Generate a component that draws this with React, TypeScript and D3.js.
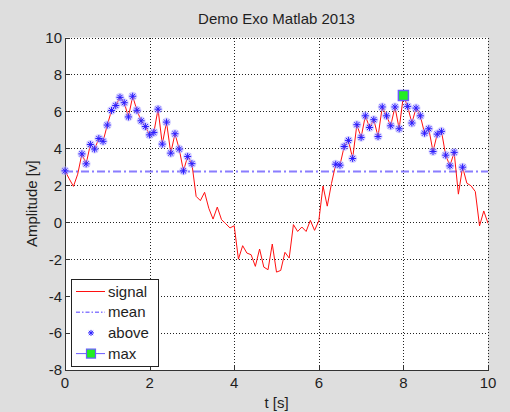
import React from 'react';
import * as d3 from 'd3';

const TITLE = 'Demo Exo Matlab 2013';
const X_LABEL = 't [s]';
const Y_LABEL = 'Amplitude [v]';
const X_TICKS = [0, 2, 4, 6, 8, 10];
const Y_TICKS = [10, 8, 6, 4, 2, 0, -2, -4, -6, -8];
const X_DOMAIN = [0, 10];
const Y_DOMAIN = [-8, 10];
const SAMPLE_STEP = 0.1;
const SIGNAL = [
  2.78, 2.35, 1.94, 2.6, 3.7, 3.16, 4.21, 3.96, 4.53, 4.38,
  5.26, 6.05, 6.32, 6.76, 6.47, 5.7, 6.82, 6.06, 5.49, 5.18,
  4.73, 4.86, 6.12, 4.23, 5.42, 3.74, 4.79, 3.96, 2.78, 3.56,
  3.17, 1.4, 1.17, 1.62, 0.75, 0.17, 0.82, 0.14, -0.08, -0.31,
  -0.19, -2.0, -1.27, -1.67, -1.76, -2.39, -1.45, -2.43, -2.57, -1.18,
  -2.7, -2.61, -1.63, -1.94, -0.13, -0.5, -0.26, -0.5, 0.1, -0.44,
  0.08, 1.96, 0.87, 2.1, 3.14, 3.09, 4.1, 4.43, 3.45, 5.28,
  4.59, 5.76, 5.13, 5.55, 4.64, 6.24, 5.76, 5.22, 6.24, 5.06,
  6.86, 6.27, 5.37, 6.18, 5.76, 4.82, 5.06, 3.83, 4.77, 4.92,
  3.63, 3.05, 3.78, 1.52, 2.98, 2.11, 1.97, 1.66, -0.2, 0.61,
  -0.06,
];
const LEGEND_LABELS = ['signal', 'mean', 'above', 'max'];

const FONT = '"Liberation Sans", Arial, Helvetica, sans-serif';
const BG = '#dedede';
const TEXT = '#1e1e1e';
const RED = '#ff1010';
const BLUE = '#2a1cff';
const MEAN_COL = '#8a7dff';
const HALO = '#b9b2ff';

function asterisk(cx: number, cy: number, r: number) {
  const d = r * 0.72;
  return `M${cx - r},${cy}H${cx + r}M${cx},${cy - r}V${cy + r}M${cx - d},${cy - d}L${cx + d},${cy + d}M${cx - d},${cy + d}L${cx + d},${cy - d}`;
}

export default function App() {
  const W = 510;
  const H = 412;
  const x = d3.scaleLinear().domain(X_DOMAIN).range([65, 488]);
  const y = d3.scaleLinear().domain(Y_DOMAIN).range([370, 37.5]);
  const t = SIGNAL.map((_, i) => +(i * SAMPLE_STEP).toFixed(1));
  const mean = d3.mean(SIGNAL) as number;
  const maxI = d3.maxIndex(SIGNAL);
  const line = d3
    .line<number>()
    .x((_, i) => x(t[i]))
    .y((d) => y(d));
  const above = SIGNAL.map((v, i) => ({ v, t: t[i] })).filter((d) => d.v > mean);

  const x0 = x(X_DOMAIN[0]);
  const x1 = x(X_DOMAIN[1]);
  const yTop = y(Y_DOMAIN[1]);
  const yBot = y(Y_DOMAIN[0]);

  const legX = 71;
  const legY = 279;
  const rowY = (i: number) => legY + 12.5 + i * 20.7;

  return (
    <svg
      width={W}
      height={H}
      style={{ position: 'absolute', left: 0, top: 0, display: 'block' }}
      fontFamily={FONT}
    >
      <rect x={0} y={0} width={W} height={H} fill={BG} />
      <rect x={x0} y={yTop} width={x1 - x0} height={yBot - yTop} fill="#fff" />

      {/* grid */}
      <g stroke="#222" strokeWidth={1} strokeDasharray="1,2" shapeRendering="crispEdges">
        {X_TICKS.filter((v) => v !== X_DOMAIN[0]).map((v) => (
          <line key={'gx' + v} x1={Math.round(x(v)) + 0.5} x2={Math.round(x(v)) + 0.5} y1={yTop} y2={yBot} />
        ))}
        {Y_TICKS.filter((v) => v !== Y_DOMAIN[0]).map((v) => (
          <line key={'gy' + v} x1={x0} x2={x1} y1={Math.round(y(v)) + 0.5} y2={Math.round(y(v)) + 0.5} />
        ))}
      </g>

      {/* axes */}
      <g stroke="#333" strokeWidth={1} shapeRendering="crispEdges">
        <line x1={x0 + 0.5} x2={x0 + 0.5} y1={yTop} y2={yBot + 0.5} />
        <line x1={x0} x2={x1 + 0.5} y1={yBot + 0.5} y2={yBot + 0.5} />
        {X_TICKS.map((v) => (
          <line key={'tx' + v} x1={Math.round(x(v)) + 0.5} x2={Math.round(x(v)) + 0.5} y1={yBot} y2={yBot - 5} />
        ))}
        {Y_TICKS.map((v) => (
          <line key={'ty' + v} x1={x0} x2={x0 + 5} y1={Math.round(y(v)) + 0.5} y2={Math.round(y(v)) + 0.5} />
        ))}
      </g>

      {/* tick labels */}
      <g fill={TEXT} fontSize={15}>
        {X_TICKS.map((v) => (
          <text key={'lx' + v} x={x(v)} y={387.5} textAnchor="middle">
            {String(v)}
          </text>
        ))}
        {Y_TICKS.map((v) => (
          <text key={'ly' + v} x={62} y={y(v)} dy="0.36em" textAnchor="end">
            {String(v)}
          </text>
        ))}
      </g>

      {/* titles */}
      <text x={(x0 + x1) / 2} y={24} textAnchor="middle" fontSize={15} fill={TEXT}>
        {TITLE}
      </text>
      <text x={(x0 + x1) / 2} y={408} textAnchor="middle" fontSize={15} fill={TEXT}>
        {X_LABEL}
      </text>
      <text
        transform={`translate(37,${(yTop + yBot) / 2}) rotate(-90)`}
        textAnchor="middle"
        fontSize={15}
        fill={TEXT}
      >
        {Y_LABEL}
      </text>

      {/* mean line */}
      <line x1={x0} x2={x1} y1={y(mean)} y2={y(mean)} stroke={MEAN_COL} strokeWidth={2} strokeDasharray="8,3,2,3" />

      {/* signal */}
      <path d={line(SIGNAL) || ''} fill="none" stroke={RED} strokeWidth={1} strokeLinejoin="round" />

      {/* above markers */}
      <g>
        {above.map((d) => (
          <circle key={'h' + d.t} cx={x(d.t)} cy={y(d.v)} r={4.5} fill={HALO} opacity={0.55} />
        ))}
        {above.map((d) => (
          <path key={'a' + d.t} d={asterisk(x(d.t), y(d.v), 3.5)} stroke={BLUE} strokeWidth={1} fill="none" />
        ))}
      </g>

      {/* max marker */}
      <rect
        x={x(t[maxI]) - 5}
        y={y(SIGNAL[maxI]) - 5}
        width={10}
        height={10}
        fill="#22ee22"
        stroke="#6a5cff"
        strokeWidth={1.5}
      />

      {/* legend */}
      <g>
        <rect x={legX + 0.5} y={legY + 0.5} width={87} height={87} fill="#fff" stroke="#222" strokeWidth={1} />
        {LEGEND_LABELS.map((lab, i) => (
          <text key={lab} x={108} y={rowY(i) + 5} fontSize={15} fill={TEXT}>
            {lab}
          </text>
        ))}
        <line x1={76} x2={105} y1={rowY(0)} y2={rowY(0)} stroke={RED} strokeWidth={1} />
        <line x1={76} x2={105} y1={rowY(1)} y2={rowY(1)} stroke={MEAN_COL} strokeWidth={1.5} strokeDasharray="4,2,1.5,2" />
        <path d={asterisk(91, rowY(2), 3)} stroke={BLUE} strokeWidth={1} fill="none" />
        <line x1={76} x2={105} y1={rowY(3)} y2={rowY(3)} stroke="#6a5cff" strokeWidth={1} />
        <rect x={86.5} y={rowY(3) - 4.5} width={9} height={9} fill="#22ee22" stroke="#6a5cff" strokeWidth={1.2} />
      </g>
    </svg>
  );
}
